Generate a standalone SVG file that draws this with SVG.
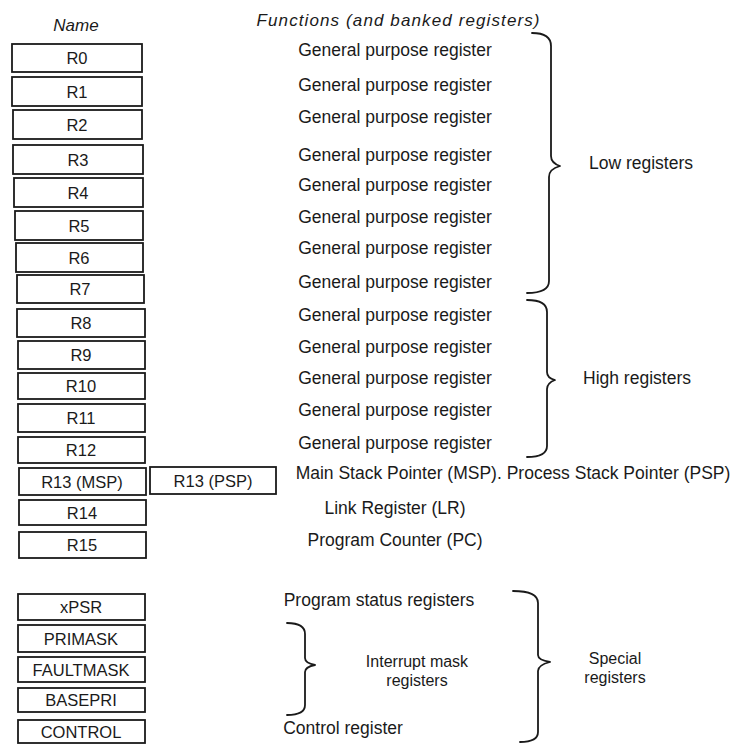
<svg xmlns="http://www.w3.org/2000/svg" width="736" height="744" viewBox="0 0 736 744">
<style>
.box{fill:#fff;stroke:#1a1a1a;stroke-width:1.8}
.lbl{font-family:"Liberation Sans",Arial,sans-serif;font-size:16.5px;fill:#1a1a1a;text-anchor:middle;dominant-baseline:central}
.txt{font-family:"Liberation Sans",Arial,sans-serif;font-size:17.5px;fill:#1a1a1a;text-anchor:middle;dominant-baseline:central}
.sm{font-family:"Liberation Sans",Arial,sans-serif;font-size:16px;fill:#1a1a1a;text-anchor:middle;dominant-baseline:central}
.hdr{font-family:"Liberation Sans",Arial,sans-serif;font-size:17px;font-style:italic;fill:#1a1a1a;text-anchor:middle;dominant-baseline:central}
.brace{fill:none;stroke:#1a1a1a;stroke-width:1.8;stroke-linecap:round;stroke-linejoin:round}
</style>
<rect width="736" height="744" fill="#fff"/>
<g id="headers">
<text class="hdr" x="76" y="25">Name</text>
<text class="hdr" x="398" y="20" textLength="283" lengthAdjust="spacing">Functions (and banked registers)</text>
</g>
<g id="R0"><rect class="box" x="12" y="44" width="130" height="28"/><text class="lbl" x="77" y="58">R0</text></g>
<g id="R1"><rect class="box" x="12" y="77" width="130" height="29"/><text class="lbl" x="77" y="91.5">R1</text></g>
<g id="R2"><rect class="box" x="13" y="110" width="129" height="29"/><text class="lbl" x="77" y="124.5">R2</text></g>
<g id="R3"><rect class="box" x="13" y="145" width="130" height="29"/><text class="lbl" x="78" y="159.5">R3</text></g>
<g id="R4"><rect class="box" x="14" y="178" width="129" height="29"/><text class="lbl" x="78" y="192.5">R4</text></g>
<g id="R5"><rect class="box" x="15" y="211" width="128" height="29"/><text class="lbl" x="79" y="225.5">R5</text></g>
<g id="R6"><rect class="box" x="16" y="243" width="127" height="29"/><text class="lbl" x="79" y="257.5">R6</text></g>
<g id="R7"><rect class="box" x="17" y="275" width="127" height="28"/><text class="lbl" x="80" y="289">R7</text></g>
<g id="R8"><rect class="box" x="17" y="309" width="128" height="28"/><text class="lbl" x="81" y="323">R8</text></g>
<g id="R9"><rect class="box" x="18" y="341" width="127" height="28"/><text class="lbl" x="81" y="355">R9</text></g>
<g id="R10"><rect class="box" x="18" y="373" width="127" height="26"/><text class="lbl" x="81" y="386">R10</text></g>
<g id="R11"><rect class="box" x="18" y="404" width="127" height="28"/><text class="lbl" x="81" y="418">R11</text></g>
<g id="R12"><rect class="box" x="18" y="437" width="127" height="26"/><text class="lbl" x="81" y="450">R12</text></g>
<g id="R13MSP"><rect class="box" x="19" y="468" width="127" height="27"/><text class="lbl" x="82" y="481.5">R13 (MSP)</text></g>
<g id="R13PSP"><rect class="box" x="150" y="467" width="126" height="27"/><text class="lbl" x="213" y="480.5">R13 (PSP)</text></g>
<g id="R14"><rect class="box" x="19" y="500" width="127" height="25"/><text class="lbl" x="82" y="512.5">R14</text></g>
<g id="R15"><rect class="box" x="19" y="532" width="127" height="26"/><text class="lbl" x="82" y="545">R15</text></g>
<g id="xPSR"><rect class="box" x="18" y="594" width="127" height="26"/><text class="lbl" x="81" y="607">xPSR</text></g>
<g id="PRIMASK"><rect class="box" x="18" y="625" width="127" height="27"/><text class="lbl" x="81" y="638.5">PRIMASK</text></g>
<g id="FAULTMASK"><rect class="box" x="18" y="657" width="127" height="25"/><text class="lbl" x="81" y="669.5">FAULTMASK</text></g>
<g id="BASEPRI"><rect class="box" x="18" y="688" width="127" height="24"/><text class="lbl" x="81" y="700">BASEPRI</text></g>
<g id="CONTROL"><rect class="box" x="18" y="720" width="127" height="23"/><text class="lbl" x="81" y="732">CONTROL</text></g>
<g id="functions">
<text class="txt" x="395" y="50">General purpose register</text>
<text class="txt" x="395" y="85">General purpose register</text>
<text class="txt" x="395" y="117">General purpose register</text>
<text class="txt" x="395" y="155">General purpose register</text>
<text class="txt" x="395" y="185">General purpose register</text>
<text class="txt" x="395" y="217">General purpose register</text>
<text class="txt" x="395" y="248">General purpose register</text>
<text class="txt" x="395" y="282">General purpose register</text>
<text class="txt" x="395" y="315">General purpose register</text>
<text class="txt" x="395" y="347">General purpose register</text>
<text class="txt" x="395" y="378">General purpose register</text>
<text class="txt" x="395" y="410">General purpose register</text>
<text class="txt" x="395" y="443">General purpose register</text>
<text class="txt" x="513" y="473">Main Stack Pointer (MSP). Process Stack Pointer (PSP)</text>
<text class="txt" x="395" y="508">Link Register (LR)</text>
<text class="txt" x="395" y="540">Program Counter (PC)</text>
<text class="txt" x="379" y="600">Program status registers</text>
<text class="sm" x="417" y="661">Interrupt mask</text>
<text class="sm" x="417" y="680">registers</text>
<text class="txt" x="343" y="728">Control register</text>
</g>
<g id="groups">
<text class="txt" x="641" y="163">Low registers</text>
<text class="txt" x="637" y="378">High registers</text>
<text class="sm" x="615" y="658">Special</text>
<text class="sm" x="615" y="677">registers</text>
</g>
<g id="connectors">
<path class="brace" d="M532,33 Q551,33 551,46 L551,156 Q551,163 560,166 Q549,169 549,177 L549,281 Q549,293 527,293"/>
<path class="brace" d="M527,300 Q547,300 547,312 L547,372 Q547,378 555,380 Q547,383 547,389 L547,446 Q547,457 527,457"/>
<path class="brace" d="M287,623 Q305,623 305,634 L305,658 Q305,663 315,665 Q305,667 305,672 L305,705 Q305,715 287,715"/>
<path class="brace" d="M513,591 Q538,591 538,603 L538,655 Q538,660 550,662 Q538,665 538,671 L538,732 Q538,742 520,742"/>
</g>
</svg>
